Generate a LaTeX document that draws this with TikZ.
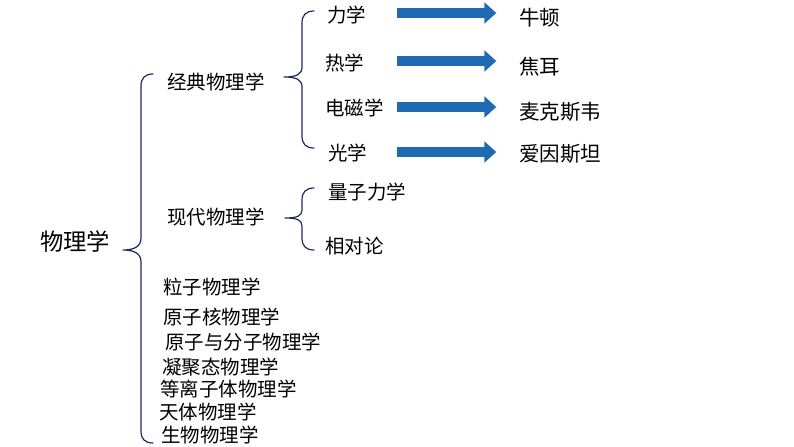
\documentclass[tikz,border=0pt]{standalone}
\usepackage{fontspec}
\usetikzlibrary{arrows.meta}
\newfontfamily\cjk{Noto Sans CJK SC}
\definecolor{bracenavy}{HTML}{1C2B5E}
\definecolor{arrowblue}{HTML}{1F6AB2}

\begin{document}
\begin{tikzpicture}[
    x=0.75pt, y=-0.75pt,
    line cap=round,
    line join=round,
    every node/.style={
      font=\cjk\fontsize{14.6pt}{17pt}\selectfont,
      inner sep=0pt,
      anchor=west
    },
    branch/.style={draw=bracenavy, line width=0.9pt},
    fatarrow/.style={draw=arrowblue, line width=7pt, line cap=butt,
      -{Triangle[width=15.5pt,length=9pt]}},
    person/.style={font=\cjk\fontsize{15.4pt}{17pt}\selectfont}
]
\useasboundingbox (0,0) rectangle (794,447);

% root
\node (root) at (40,242) {\fontsize{17.5pt}{20pt}\selectfont 物理学};

% main brace
\draw[branch] (153,74) .. controls (145,74) and (141,78) .. (141,86) -- (141,238)
  .. controls (141,246) and (135,250) .. (123,250)
  .. controls (135,250) and (141,254) .. (141,262) -- (141,431)
  .. controls (141,439) and (145,443) .. (153,443);

% classical
\node (classic) at (167,82) {经典物理学};
\draw[branch] (314,11) .. controls (306,11) and (302,15) .. (302,23) -- (302,67)
  .. controls (302,74) and (297,77) .. (284,77)
  .. controls (297,77) and (302,80) .. (302,87) -- (302,136)
  .. controls (302,144) and (306,148) .. (314,148);

\node (mech)  at (327,15)  {力学};
\node (heat)  at (325,63)  {热学};
\node (em)    at (325,108) {电磁学};
\node (optic) at (328,153) {光学};

\node[person] (newton)   at (519,18)  {牛顿};
\node[person] (joule)    at (519,67)  {焦耳};
\node[person] (maxwell)  at (519,112) {麦克斯韦};
\node[person] (einstein) at (519,154) {爱因斯坦};

\coordinate (t1) at (397,13);
\coordinate (t2) at (397,61);
\coordinate (t3) at (397,107);
\coordinate (t4) at (397,152);
\draw[fatarrow, shorten >=17pt] (t1) -- (t1 -| newton.west);
\draw[fatarrow, shorten >=17pt] (t2) -- (t2 -| joule.west);
\draw[fatarrow, shorten >=17pt] (t3) -- (t3 -| maxwell.west);
\draw[fatarrow, shorten >=17pt] (t4) -- (t4 -| einstein.west);

% modern
\node (modern) at (167,217) {现代物理学};
\draw[branch] (314,188) .. controls (306,188) and (302,192) .. (302,200) -- (302,210)
  .. controls (302,216) and (297,218) .. (285,218)
  .. controls (297,218) and (302,220) .. (302,226) -- (302,238)
  .. controls (302,246) and (306,250) .. (314,250);
\node (quantum)  at (328,192) {量子力学};
\node (relative) at (325,246) {相对论};

% other branches
\node (particle) at (163,287) {粒子物理学};
\node (nuclear)  at (163,317) {原子核物理学};
\node (atomic)   at (165,342) {原子与分子物理学};
\node (condense) at (162,367) {凝聚态物理学};
\node (plasma)   at (160,389) {等离子体物理学};
\node (astro)    at (159,412) {天体物理学};
\node (bio)      at (161,435) {生物物理学};
\end{tikzpicture}
\end{document}
